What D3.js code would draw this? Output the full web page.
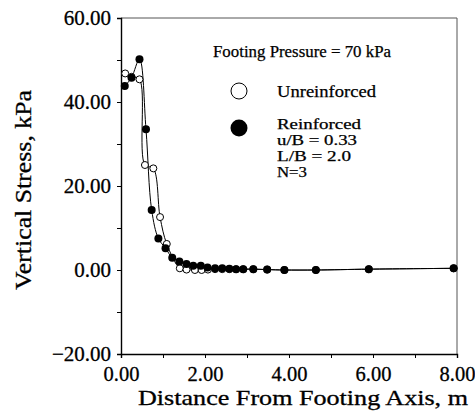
<!DOCTYPE html>
<html><head><meta charset="utf-8">
<script src="https://cdn.jsdelivr.net/npm/d3@7"></script>
<style>body{margin:0;background:#fff}svg{display:block}text{font-family:"Liberation Serif","Times New Roman",serif;fill:#000}</style>
</head><body><svg id="c" width="475" height="417"></svg>
<script>
const reinforcedX = [0.09,0.25,0.44,0.595,0.73,0.89,1.06,1.22,1.39,1.56,1.72,1.90,2.06,2.24,2.41,2.58,2.74,2.91,3.15,3.48,3.89,4.64,5.90,7.92];
const reinforcedY = [43.8,45.8,50.2,33.5,14.3,7.5,5.2,2.9,2.0,1.4,1.0,1.0,0.6,0.4,0.4,0.3,0.2,0.2,0.2,0.1,0.0,0.0,0.2,0.4];
const unreinforcedX = [0.10,0.25,0.44,0.57,0.77,0.93,1.09,1.40,1.56,1.76,1.92,2.07,2.24,2.41,2.58,2.74,2.91,3.15,3.48,3.89,4.64,5.90,7.92];
const unreinforcedY = [46.8,46.0,45.4,25.0,24.2,12.6,6.2,0.4,0.1,0.0,0.0,0.1,0.2,0.2,0.2,0.2,0.2,0.2,0.1,0.0,0.0,0.2,0.4];
const xTicks = [0,2,4,6,8];
const yTicks = [-20,0,20,40,60];
const legendLines = ["Reinforced","u/B = 0.33","L/B = 2.0","N=3"];
const legendWidths = [84,80,74,30];

const svg = d3.select("#c");
const L=121,R=457,T=18,B=354;
const x = d3.scaleLinear().domain([0,8]).range([L,R]);
const y = d3.scaleLinear().domain([-20,60]).range([B,T]);

// frame top/right
svg.append("path").attr("d",`M${L},${T}H${R}V${B}`).attr("fill","none").attr("stroke","#555").attr("stroke-width",1);

const xAxis = svg.append("g").attr("transform",`translate(0,${B})`)
  .call(d3.axisBottom(x).tickValues(d3.range(0,9,1)).tickSize(4).tickFormat(d=>xTicks.includes(d)?d3.format(".2f")(d):""));
xAxis.select(".domain").attr("stroke-width",1.4);
xAxis.selectAll("text").attr("font-size",20.5).attr("dy",null).attr("y",27);
const yAxis = svg.append("g").attr("transform",`translate(${L},0)`)
  .call(d3.axisLeft(y).tickValues(d3.range(-20,61,10)).tickSize(4).tickFormat(d=>yTicks.includes(d)?d3.format(".2f")(d):""));
yAxis.select(".domain").attr("stroke-width",1.4);
yAxis.selectAll("text").attr("font-size",21).attr("x",-10);
svg.selectAll(".tick text").attr("font-family","Liberation Serif").attr("stroke","#000").attr("stroke-width",0.3);

svg.append("text").attr("x",303).attr("y",405).attr("text-anchor","middle").attr("font-size",21)
  .attr("textLength",330).attr("lengthAdjust","spacingAndGlyphs").attr("stroke","#000").attr("stroke-width",0.3).text("Distance From Footing Axis, m");
svg.append("text").attr("transform","translate(31,190) rotate(-90)").attr("text-anchor","middle").attr("font-size",23)
  .attr("textLength",200).attr("lengthAdjust","spacingAndGlyphs").attr("stroke","#000").attr("stroke-width",0.3).text("Vertical Stress, kPa");

const line = d3.line().x(d=>x(d[0])).y(d=>y(d[1])).curve(d3.curveCatmullRom.alpha(0.5));
const rData = reinforcedX.map((v,i)=>[v,reinforcedY[i]]);
const uData = unreinforcedX.map((v,i)=>[v,unreinforcedY[i]]);
svg.append("path").attr("d",line(uData)).attr("fill","none").attr("stroke","#000").attr("stroke-width",1);
svg.append("path").attr("d",line(rData)).attr("fill","none").attr("stroke","#000").attr("stroke-width",1);
svg.selectAll(".u").data(uData).join("circle").attr("cx",d=>x(d[0])).attr("cy",d=>y(d[1])).attr("r",3.5).attr("fill","#fff").attr("stroke","#000").attr("stroke-width",1);
svg.selectAll(".r").data(rData).join("circle").attr("cx",d=>x(d[0])).attr("cy",d=>y(d[1])).attr("r",4).attr("fill","#000");

// legend
const lg = svg.append("g").attr("stroke","#000").attr("stroke-width",0.25);
lg.append("text").attr("x",213).attr("y",57).attr("font-size",16.5).attr("textLength",178).attr("lengthAdjust","spacingAndGlyphs").text("Footing Pressure = 70 kPa");
svg.append("circle").attr("cx",239).attr("cy",91).attr("r",8).attr("fill","#fff").attr("stroke","#000");
svg.append("circle").attr("cx",239).attr("cy",128).attr("r",8.5).attr("fill","#000");
lg.append("text").attr("x",277).attr("y",97).attr("font-size",16.5).attr("textLength",99).attr("lengthAdjust","spacingAndGlyphs").text("Unreinforced");
legendLines.forEach((t,i)=>lg.append("text").attr("x",277).attr("y",129+i*16).attr("font-size",13.8)
  .attr("textLength",legendWidths[i]).attr("lengthAdjust","spacingAndGlyphs").text(t));
</script></body></html>
